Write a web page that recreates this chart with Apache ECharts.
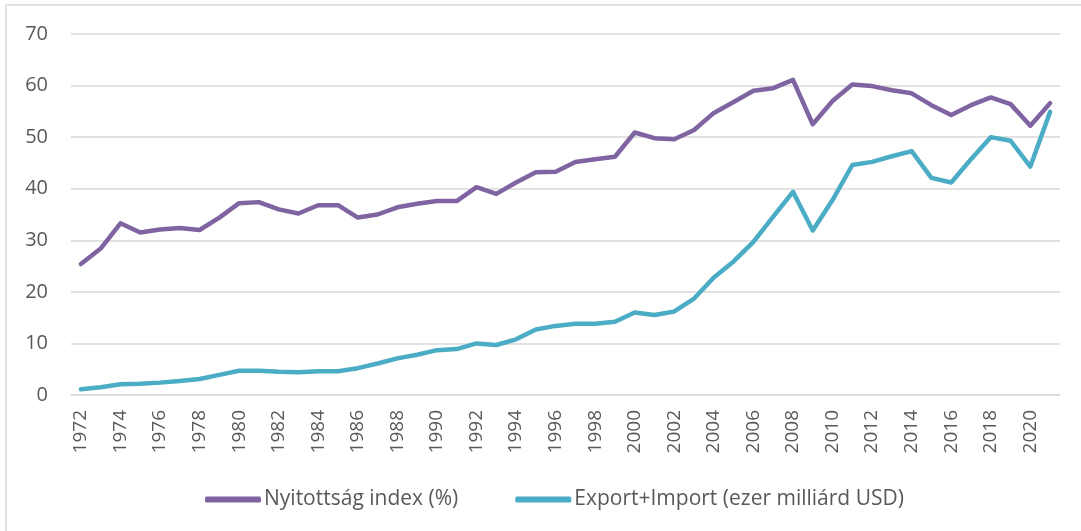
<!DOCTYPE html>
<html>
<head>
<meta charset="utf-8">
<script src="https://cdn.jsdelivr.net/npm/echarts@6/dist/echarts.min.js"></script>
<style>
html,body{margin:0;padding:0;background:#fff;}
#chart{width:1081px;height:531px;}
</style>
</head>
<body>
<div id="chart"></div>
<script>
// evek
var years = [];
for (var y = 1972; y <= 2021; y++) { years.push(String(y)); }

// Nyitottság index (%)
var nyitottsag = [
  25.4, 28.4, 33.3, 31.5, 32.1, 32.4, 32.0, 34.4, 37.2, 37.4,
  36.0, 35.2, 36.8, 36.8, 34.4, 35.0, 36.4, 37.1, 37.6, 37.6,
  40.3, 39.0, 41.2, 43.2, 43.3, 45.2, 45.7, 46.2, 50.9, 49.8,
  49.6, 51.4, 54.7, 56.8, 59.0, 59.5, 61.1, 52.5, 57.0, 60.2,
  59.9, 59.1, 58.5, 56.2, 54.3, 56.2, 57.7, 56.4, 52.2, 56.6
];

// Export+Import (ezer milliárd USD)
var exportImport = [
  1.1, 1.5, 2.1, 2.2, 2.4, 2.7, 3.1, 3.9, 4.7, 4.7,
  4.5, 4.4, 4.6, 4.6, 5.2, 6.1, 7.1, 7.8, 8.7, 8.9,
  10.0, 9.7, 10.8, 12.7, 13.4, 13.8, 13.8, 14.2, 16.0, 15.5,
  16.2, 18.7, 22.8, 25.9, 29.7, 34.6, 39.4, 31.9, 37.8, 44.6,
  45.2, 46.3, 47.3, 42.1, 41.2, 45.7, 50.0, 49.3, 44.3, 54.9
];

var chart = echarts.init(document.getElementById('chart'));
var font = '"Open Sans", "Noto Sans", sans-serif';

chart.setOption({
  animation: false,
  textStyle: { fontFamily: font, color: '#595959' },
  graphic: [{
    type: 'rect',
    shape: { x: 6, y: 5, width: 1200, height: 700 },
    style: { fill: 'none', stroke: '#d9d9d9', lineWidth: 1.5 },
    silent: true
  }],
  grid: { left: 71, right: 21, top: 34, bottom: 136 },
  legend: {
    bottom: 16,
    left: 200,
    icon: 'roundRect',
    itemWidth: 56,
    itemHeight: 6,
    itemGap: 57,
    textStyle: { fontFamily: font, fontSize: 21, color: '#595959', padding: [0, 0, 0, -2] },
    data: ['Nyitottság index (%)', 'Export+Import (ezer milliárd USD)']
  },
  xAxis: {
    type: 'category',
    data: years,
    boundaryGap: true,
    axisTick: { show: false },
    axisLine: { lineStyle: { color: '#d9d9d9', width: 1.5 } },
    axisLabel: {
      rotate: 90,
      interval: 1,
      margin: 15,
      fontSize: 19,
      color: '#595959',
      fontFamily: font
    }
  },
  yAxis: {
    type: 'value',
    min: 0,
    max: 70,
    interval: 10,
    axisLine: { show: false },
    axisTick: { show: false },
    splitLine: { lineStyle: { color: '#d9d9d9', width: 1.5 } },
    axisLabel: { margin: 23, fontSize: 20, color: '#595959', fontFamily: font }
  },
  series: [
    {
      name: 'Nyitottság index (%)',
      type: 'line',
      data: nyitottsag,
      symbol: 'none',
      color: '#8064a2',
      lineStyle: { width: 4.5, color: '#8064a2', cap: 'round', join: 'round' }
    },
    {
      name: 'Export+Import (ezer milliárd USD)',
      type: 'line',
      data: exportImport,
      symbol: 'none',
      color: '#4bacc6',
      lineStyle: { width: 4.5, color: '#4bacc6', cap: 'round', join: 'round' }
    }
  ]
});
</script>
</body>
</html>
